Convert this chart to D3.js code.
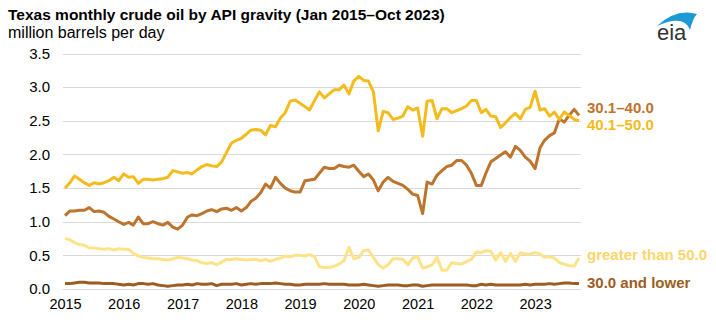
<!DOCTYPE html>
<html>
<head>
<meta charset="utf-8">
<script src="https://cdn.jsdelivr.net/npm/d3@7"></script>
<style>
  body { margin: 0; background: #fff; }
  text { font-family: "Liberation Sans", Arial, sans-serif; }
</style>
</head>
<body>
<div id="chart"></div>
<script>
// monthly values, Jan 2015 - Oct 2023 (million barrels per day)
var api40to50 = [1.50,1.58,1.68,1.63,1.58,1.54,1.58,1.56,1.58,1.61,1.66,1.61,
  1.71,1.66,1.67,1.57,1.63,1.63,1.62,1.63,1.64,1.66,1.76,1.74,
  1.72,1.73,1.71,1.77,1.82,1.85,1.83,1.82,1.89,2.03,2.17,2.21,
  2.24,2.30,2.36,2.37,2.36,2.29,2.43,2.41,2.54,2.62,2.79,2.81,
  2.76,2.71,2.66,2.80,2.93,2.84,2.90,2.96,2.96,3.03,2.90,3.09,
  3.16,3.10,3.09,2.93,2.35,2.64,2.62,2.52,2.54,2.57,2.71,2.66,
  2.69,2.27,2.79,2.80,2.53,2.68,2.68,2.62,2.65,2.68,2.72,2.80,
  2.80,2.62,2.67,2.57,2.56,2.40,2.47,2.55,2.61,2.53,2.67,2.70,
  2.94,2.66,2.68,2.57,2.63,2.52,2.63,2.58,2.52,2.50];
var api30to40 = [1.09,1.16,1.16,1.17,1.17,1.21,1.15,1.16,1.14,1.08,1.04,1.00,
  0.96,0.99,0.95,1.07,0.97,0.97,1.00,0.97,0.95,0.99,0.92,0.89,
  0.95,1.07,1.10,1.09,1.12,1.16,1.18,1.15,1.19,1.20,1.17,1.21,
  1.16,1.21,1.30,1.35,1.43,1.56,1.50,1.66,1.57,1.50,1.46,1.44,
  1.44,1.61,1.62,1.63,1.72,1.81,1.79,1.79,1.84,1.82,1.81,1.84,
  1.75,1.67,1.71,1.62,1.46,1.59,1.66,1.60,1.57,1.54,1.48,1.41,
  1.39,1.12,1.59,1.56,1.69,1.76,1.82,1.84,1.91,1.91,1.84,1.72,
  1.54,1.54,1.72,1.89,1.94,1.99,2.04,1.96,2.12,2.06,1.96,1.90,
  1.79,2.10,2.21,2.28,2.32,2.53,2.48,2.58,2.67,2.58];
var apiOver50 = [0.75,0.73,0.69,0.66,0.65,0.61,0.61,0.60,0.59,0.60,0.58,0.60,
  0.59,0.59,0.53,0.49,0.47,0.46,0.45,0.45,0.44,0.43,0.45,0.47,
  0.46,0.45,0.43,0.42,0.39,0.38,0.39,0.36,0.40,0.44,0.44,0.45,
  0.44,0.43,0.44,0.44,0.42,0.44,0.41,0.44,0.46,0.49,0.48,0.50,
  0.50,0.49,0.51,0.48,0.33,0.32,0.32,0.34,0.37,0.42,0.62,0.45,
  0.47,0.57,0.58,0.47,0.36,0.31,0.36,0.45,0.45,0.44,0.36,0.46,
  0.48,0.31,0.33,0.36,0.47,0.28,0.28,0.39,0.38,0.37,0.41,0.44,
  0.55,0.54,0.57,0.56,0.43,0.54,0.41,0.53,0.41,0.54,0.52,0.52,
  0.54,0.52,0.47,0.48,0.46,0.39,0.37,0.35,0.34,0.46];
var api30under = [0.08,0.08,0.09,0.10,0.10,0.09,0.09,0.09,0.08,0.08,0.08,0.07,
  0.06,0.07,0.06,0.08,0.08,0.07,0.08,0.06,0.05,0.04,0.05,0.06,
  0.06,0.07,0.06,0.08,0.07,0.07,0.08,0.05,0.07,0.07,0.07,0.08,
  0.06,0.07,0.08,0.07,0.08,0.08,0.08,0.09,0.08,0.07,0.07,0.06,
  0.06,0.07,0.07,0.07,0.07,0.08,0.07,0.07,0.07,0.07,0.06,0.06,
  0.06,0.07,0.06,0.05,0.04,0.05,0.06,0.06,0.06,0.05,0.05,0.06,
  0.06,0.04,0.05,0.06,0.06,0.06,0.06,0.06,0.06,0.06,0.06,0.05,
  0.05,0.07,0.06,0.07,0.06,0.06,0.06,0.06,0.06,0.06,0.07,0.06,
  0.07,0.07,0.07,0.08,0.07,0.08,0.09,0.09,0.08,0.08];

var yearTicks = [2015, 2016, 2017, 2018, 2019, 2020, 2021, 2022, 2023];
var yTicks = [0, 0.5, 1.0, 1.5, 2.0, 2.5, 3.0, 3.5];

var series = [
  { name: "30.0 and lower", values: api30under, color: "#9c5d22", labelY: 288 },
  { name: "greater than 50.0", values: apiOver50, color: "#fde388", labelY: 260 },
  { name: "30.1\u201340.0", values: api30to40, color: "#bd742c", labelY: 113 },
  { name: "40.1\u201350.0", values: api40to50, color: "#f3bb1c", labelY: 130 }
];

var width = 716, height = 322;
var start = new Date(2015, 0, 1);
function monthDate(i) { return new Date(2015, i, 1); }

var x = d3.scaleTime()
  .domain([start, monthDate(api40to50.length - 1)])
  .range([65, 579]);
var y = d3.scaleLinear()
  .domain([0, 3.5])
  .range([289, 53.5]);

var svg = d3.select("#chart").append("svg")
  .attr("width", width)
  .attr("height", height);

// title
svg.append("text").text("Texas monthly crude oil by API gravity (Jan 2015\u2013Oct 2023)")
  .attr("x", 8).attr("y", 20)
  .attr("font-size", "15.5px").attr("font-weight", "bold").attr("fill", "#000");
svg.append("text").text("million barrels per day")
  .attr("x", 8).attr("y", 38)
  .attr("font-size", "16px").attr("fill", "#000");

// gridlines
svg.append("g").selectAll("line")
  .data(yTicks)
  .enter()
  .append("line")
  .attr("x1", 63).attr("x2", 581)
  .attr("y1", function(d) { return Math.round(y(d)) + 0.5; })
  .attr("y2", function(d) { return Math.round(y(d)) + 0.5; })
  .attr("stroke", "#d9d9d9")
  .attr("stroke-width", 1.2);

// y axis labels
var yAxis = d3.axisLeft(y).tickValues(yTicks).tickFormat(d3.format(".1f")).tickSize(0).tickPadding(0);
var gy = svg.append("g").attr("transform", "translate(50,0)").call(yAxis);
gy.select(".domain").remove();
gy.selectAll("text").attr("font-size", "15px").attr("fill", "#000")
  .attr("font-family", "'Liberation Sans', Arial, sans-serif");

// x axis labels
var xAxis = d3.axisBottom(x)
  .tickValues(yearTicks.map(function(yr) { return new Date(yr, 0, 1); }))
  .tickFormat(d3.timeFormat("%Y")).tickSize(0).tickPadding(0);
var gx = svg.append("g").attr("transform", "translate(0,299)").call(xAxis);
gx.select(".domain").remove();
gx.selectAll("text").attr("font-size", "14.5px").attr("fill", "#000")
  .attr("font-family", "'Liberation Sans', Arial, sans-serif");

var line = d3.line()
  .x(function(d, i) { return x(monthDate(i)); })
  .y(function(d) { return y(d); });

svg.append("g").selectAll("path")
  .data(series)
  .enter()
  .append("path")
  .attr("d", function(s) { return line(s.values); })
  .attr("fill", "none")
  .attr("stroke", function(s) { return s.color; })
  .attr("stroke-width", 3)
  .attr("stroke-linejoin", "round");

// series labels
svg.append("g").selectAll("text")
  .data(series)
  .enter()
  .append("text")
  .text(function(s) { return s.name; })
  .attr("x", 587)
  .attr("y", function(s) { return s.labelY; })
  .attr("font-size", "15px")
  .attr("font-weight", "bold")
  .attr("fill", function(s) { return s.name === "greater than 50.0" ? "#fbd66a" : s.color; });

// eia logo
var logo = svg.append("g");
logo.append("path")
  .attr("d", "M657,26 Q676,8 697,14 Q693,18 690,30 Q684,14 657,26 Z")
  .attr("fill", "#1d9ad6");
logo.append("text").text("eia")
  .attr("x", 657).attr("y", 40)
  .attr("font-size", "22px").attr("fill", "#333");
</script>
</body>
</html>
